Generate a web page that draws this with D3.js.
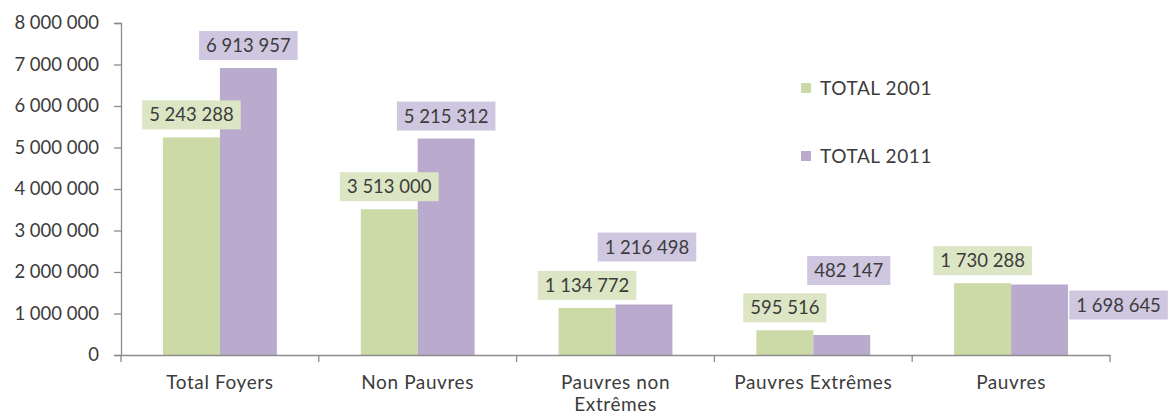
<!DOCTYPE html>
<html>
<head>
<meta charset="utf-8">
<script src="https://cdn.jsdelivr.net/npm/d3@7"></script>
<style>
  body { margin: 0; background: #fff; }
  text { font-family: Lato, "Open Sans", sans-serif; fill: #3c3c3c; }
</style>
</head>
<body>
<div id="chart"></div>
<script>
var categories = ["Total Foyers", "Non Pauvres", "Pauvres non Extrêmes", "Pauvres Extrêmes", "Pauvres"];
var seriesNames = ["TOTAL 2001", "TOTAL 2011"];
var total2001 = [5243288, 3513000, 1134772, 595516, 1730288];
var total2011 = [6913957, 5215312, 1216498, 482147, 1698645];
var yTicks = [0, 1000000, 2000000, 3000000, 4000000, 5000000, 6000000, 7000000, 8000000];

// manual label nudges (like the hand-placed labels of the original)
var labelShift2011 = [[0, 0], [0, 0], [3, -35], [7, -42], [79, 43]];

var width = 1169, height = 416;
var margin = {top: 23, right: 59, bottom: 61, left: 121};

var fr = d3.formatLocale({decimal: ",", thousands: " ", grouping: [3], currency: ["", " €"]});
var fmt = fr.format(",d");

var barColor = ["#cbdaa6", "#b9aace"];
var boxColor = ["#dce6c4", "#cfc7e0"];

var svg = d3.select("#chart").append("svg")
    .attr("width", width)
    .attr("height", height);

var x0 = d3.scaleBand()
    .domain(categories)
    .range([margin.left, width - margin.right])
    .padding(0);

var x1 = d3.scaleBand()
    .domain(seriesNames)
    .range([0, x0.bandwidth()])
    .paddingInner(0)
    .paddingOuter(0.737);

var y = d3.scaleLinear()
    .domain([0, 8000000])
    .range([height - margin.bottom, margin.top]);

// y axis
var yAxis = svg.append("g")
    .attr("transform", "translate(" + margin.left + ",0)")
    .call(d3.axisLeft(y).tickValues(yTicks).tickFormat(fmt).tickSize(7).tickPadding(15));
yAxis.select(".domain").attr("stroke", "#8c8c8c").attr("stroke-width", 1.3);
yAxis.selectAll(".tick line").attr("stroke", "#8c8c8c").attr("stroke-width", 1.3);
yAxis.selectAll("text").style("font-size", "18.5px").attr("fill", "#3c3c3c")
    .style("font-family", "Lato, sans-serif");

var series = [total2001, total2011];

// bars
seriesNames.forEach(function(s, si) {
    svg.append("g").selectAll("rect")
        .data(categories)
        .enter().append("rect")
        .attr("x", function(c) { return x0(c) + x1(s); })
        .attr("width", x1.bandwidth())
        .attr("y", function(c, i) { return y(series[si][i]); })
        .attr("height", function(c, i) { return y(0) - y(series[si][i]); })
        .attr("fill", barColor[si]);
});

// x axis
var xAxis = svg.append("g")
    .attr("transform", "translate(0," + y(0) + ")")
    .call(d3.axisBottom(x0).tickSize(0).tickFormat(""));
xAxis.select(".domain").attr("stroke", "#8c8c8c").attr("stroke-width", 1.3);
var bounds = categories.map(function(c) { return x0(c); }).concat([x0(categories[categories.length - 1]) + x0.bandwidth()]);
xAxis.selectAll(".bound")
    .data(bounds)
    .enter().append("line")
    .attr("x1", function(d) { return d; })
    .attr("x2", function(d) { return d; })
    .attr("y1", 0).attr("y2", 7)
    .attr("stroke", "#8c8c8c").attr("stroke-width", 1.3);

// category labels
categories.forEach(function(c) {
    var words = c === "Pauvres non Extrêmes" ? ["Pauvres non", "Extrêmes"] : [c];
    var t = svg.append("text")
        .attr("x", x0(c) + x0.bandwidth() / 2)
        .attr("y", y(0) + 34)
        .attr("text-anchor", "middle")
        .style("font-size", "19px")
        .style("letter-spacing", "0.6px");
    words.forEach(function(w, k) {
        t.append("tspan")
            .attr("x", x0(c) + x0.bandwidth() / 2)
            .attr("dy", k === 0 ? 0 : 22)
            .text(w);
    });
});

// data labels
seriesNames.forEach(function(s, si) {
    categories.forEach(function(c, i) {
        var v = series[si][i];
        var shift = si === 1 ? labelShift2011[i] : [0, 0];
        var cx = x0(c) + x1(s) + x1.bandwidth() / 2 + shift[0];
        var bottom = y(v) - 8 + shift[1];
        var g = svg.append("g");
        var rect = g.append("rect").attr("fill", boxColor[si]);
        var t = g.append("text")
            .attr("x", cx)
            .attr("y", bottom - 8)
            .attr("text-anchor", "middle")
            .style("font-size", "18.5px")
            .text(fmt(v));
        var bb = t.node().getBBox();
        rect.attr("x", cx - bb.width / 2 - 7)
            .attr("width", bb.width + 14)
            .attr("y", bottom - 29)
            .attr("height", 29);
    });
});

// legend
var legend = svg.append("g");
seriesNames.forEach(function(s, si) {
    var ly = 88 + si * 68;
    legend.append("rect")
        .attr("x", 801).attr("y", ly - 5)
        .attr("width", 10).attr("height", 10)
        .attr("fill", barColor[si]);
    legend.append("text")
        .attr("x", 820).attr("y", ly)
        .attr("dy", "0.35em")
        .style("font-size", "19px")
        .style("letter-spacing", "0.6px")
        .text(s);
});
</script>
</body>
</html>
